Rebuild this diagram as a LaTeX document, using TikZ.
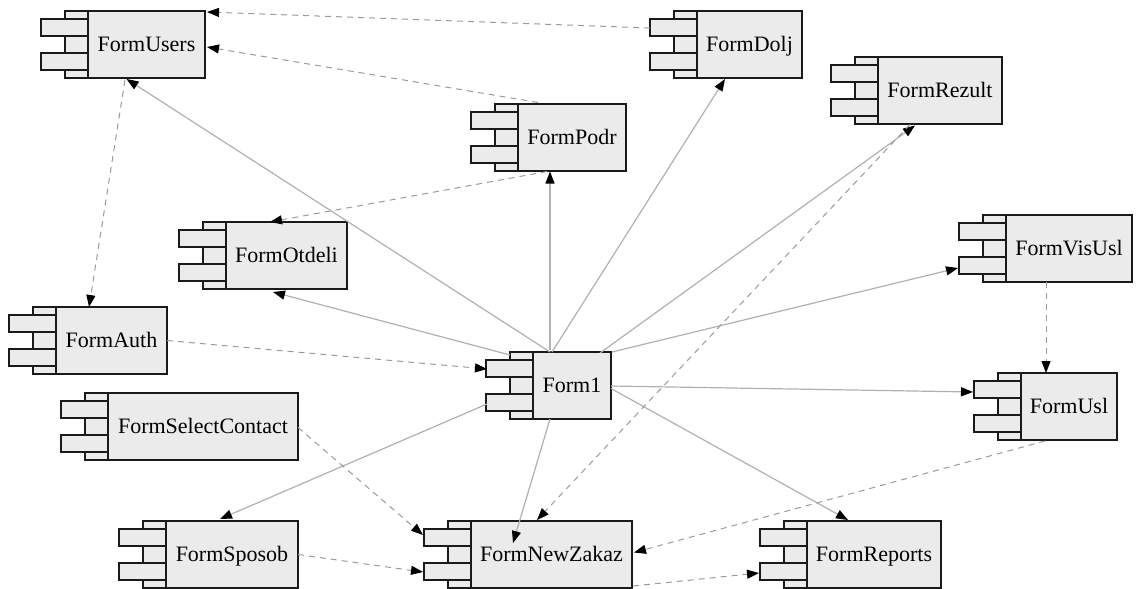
\documentclass[tikz,border=0pt]{standalone}
\usepackage{fontspec}
\setmainfont{Liberation Serif}
\usetikzlibrary{calc,arrows.meta}
\definecolor{compfill}{HTML}{EBEBEB}
\definecolor{compline}{HTML}{1A1A1A}
\definecolor{solidc}{HTML}{B0B0B0}
\definecolor{dashc}{HTML}{9A9A9A}
\tikzset{
  comp/.style={draw=compline, line width=2pt, fill=compfill, minimum height=67pt,
    inner sep=0pt, outer sep=0pt, font=\fontsize{22}{26}\selectfont, text height=14.6pt, text depth=0pt},
  part/.style={draw=compline, line width=2pt, fill=compfill},
  solidedge/.style={draw=solidc, line width=1.2pt, -{Triangle[length=12pt,width=9pt,color=black]}},
  dashedge/.style={solidedge, draw=dashc, line width=1pt, dash pattern=on 6pt off 5pt},
}
\newcommand\comp[5]{%
  \node[comp, minimum width=#4pt] (#1) at (#2,#3) {#5};
  \draw[part] ([xshift=-23pt]#1.north west) rectangle (#1.south west);
  \draw[part] ([xshift=-47pt,yshift=-8pt]#1.north west) rectangle ([yshift=-25pt]#1.north west);
  \draw[part] ([xshift=-47pt,yshift=8pt]#1.south west) rectangle ([yshift=25pt]#1.south west);
}
\begin{document}
\begin{tikzpicture}[x=1pt,y=-1pt]
\useasboundingbox (0,0) rectangle (1136,589);
\comp{U}{146.5}{44.5}{117}{FormUsers}
\comp{D}{749.5}{44.5}{105}{FormDolj}
\comp{P}{572}{137}{108}{FormPodr}
\comp{R}{940}{90}{124}{FormRezult}
\comp{V}{1069}{248.5}{126}{FormVisUsl}
\comp{O}{286.5}{255.5}{121}{FormOtdeli}
\comp{A}{111.5}{340.5}{111}{FormAuth}
\comp{SC}{203}{426.5}{190}{FormSelectContact}
\comp{F}{572}{385.5}{78}{Form1}
\comp{NZ}{551.5}{554.5}{161}{FormNewZakaz}
\comp{Us}{1069}{406.5}{96}{FormUsl}
\comp{Rep}{874}{554.5}{134}{FormReports}
\comp{Sp}{232}{554.5}{132}{FormSposob}
% solid edges from Form1
\draw[solidedge] ($(F.north)+(-22,0)$) -- ($(U.south)+(-20,1)$);
\draw[solidedge] ($(F.north)+(-22,-2)$) -- ($(P.south)+(-22,1)$);
\draw[solidedge] ($(F.north)+(-20,0)$) -- ($(D.south)+(-24.5,1)$);
\draw[solidedge] ($(F.north)+(28,1)$) -- ($(R.south)+(-25,2)$);
\draw[solidedge] ($(F.north east)+(1,0)$) -- ($(V.south west)+(-48,-14)$);
\draw[solidedge] ($(F.east)+(0,0.5)$) -- ($(Us.north west)+(-48,19)$);
\draw[solidedge] ($(F.east)+(0,3)$) -- ($(Rep.north)+(-26,-1)$);
\draw[solidedge] ($(F.south)+(-22,0)$) -- ($(NZ.center)+(-38.5,-11.5)$);
\draw[solidedge] ($(F.west)+(-46,18.5)$) -- ($(Sp.north)+(-12,-2)$);
\draw[solidedge] ($(F.north west)+(-23,3)$) -- ($(O.south)+(-13.5,3)$);
% dashed edges
\draw[dashedge] ($(D.north west)+(-47,17)$) -- ($(U.north east)+(2,1)$);
\draw[dashedge] ($(P.north)+(-34,-1)$) -- ($(U.east)+(2,2.5)$);
\draw[dashedge] ($(P.south)+(-25,1)$) -- ($(O.north)+(-16.5,0)$);
\draw[dashedge] ($(U.south)+(-21.5,2)$) -- ($(A.north)+(-22.5,0)$);
\draw[dashedge] (A.east) -- ($(F.west)+(-46,-16.5)$);
\draw[dashedge] ($(SC.east)+(0,1)$) -- ($(NZ.west)+(-48,-19.5)$);
\draw[dashedge] (Sp.east) -- ($(NZ.west)+(-48,17.5)$);
\draw[dashedge] ($(R.south)+(-30,1)$) -- ($(NZ.north)+(-14.5,-1)$);
\draw[dashedge] ($(V.south)+(-23,0)$) -- ($(Us.north)+(-23,0)$);
\draw[dashedge] ($(Us.south)+(-24,1)$) -- ($(NZ.east)+(2,-2)$);
\draw[dashedge] ($(NZ.south east)+(1,-2)$) -- ($(Rep.west)+(-48,18.5)$);
\end{tikzpicture}
\end{document}
